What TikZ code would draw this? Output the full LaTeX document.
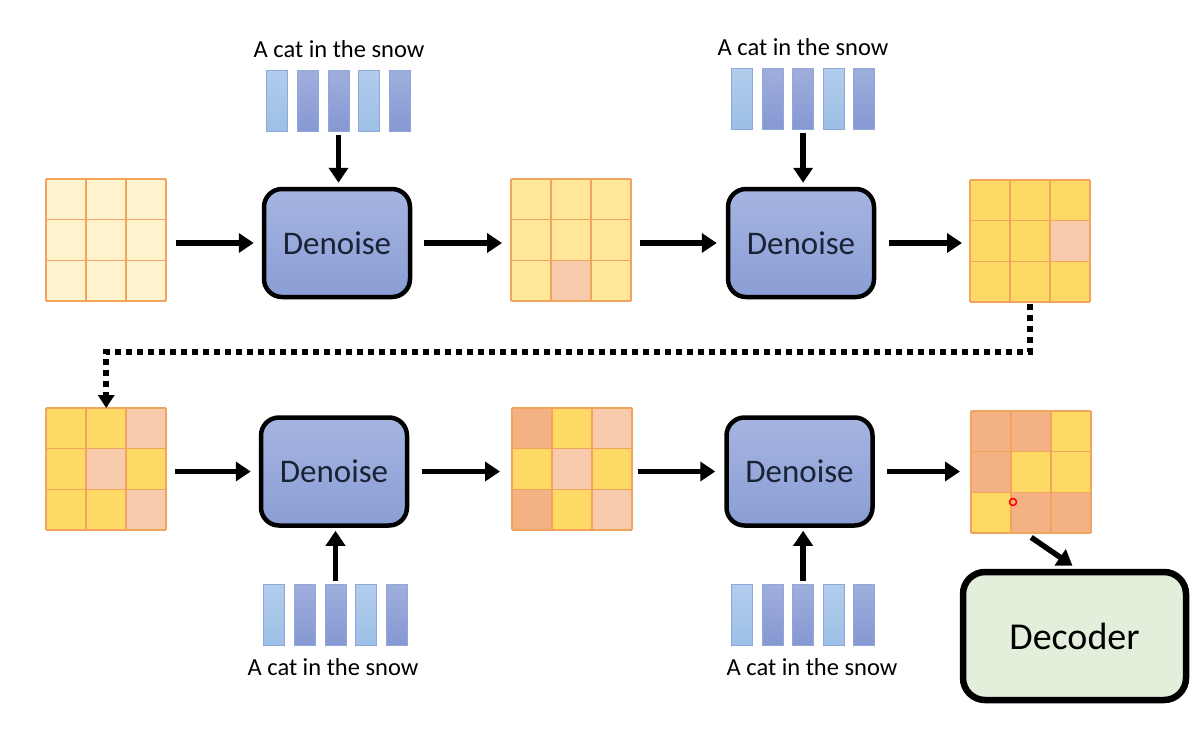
\documentclass[tikz,border=0pt]{standalone}
\usepackage{fontspec}
\setmainfont{Carlito}
\usetikzlibrary{arrows.meta}
\definecolor{cP}{HTML}{FFF2CC}
\definecolor{cL}{HTML}{FFE699}
\definecolor{cY}{HTML}{FFD966}
\definecolor{cK}{HTML}{F8CBAD}
\definecolor{cO}{HTML}{F4B183}
\definecolor{gline}{HTML}{F2A35E}
\definecolor{barLt}{HTML}{B2CCEC}
\definecolor{barLb}{HTML}{9CBFE6}
\definecolor{barDt}{HTML}{A0AEDD}
\definecolor{barDb}{HTML}{8698D2}
\definecolor{barEdge}{HTML}{8FA8DA}
\definecolor{denT}{HTML}{A5B5E1}
\definecolor{denB}{HTML}{8A9ED5}
\definecolor{denText}{HTML}{1A2235}
\definecolor{decFill}{HTML}{E2EFDA}
\tikzset{
  gridbox/.style={minimum width=120pt, minimum height=122pt, inner sep=0pt, anchor=north west},
  gridline/.style={draw=gline, line width=1.2pt},
  lbar/.style={minimum width=21pt, minimum height=61pt, inner sep=0pt, anchor=north west, draw=barEdge, line width=0.8pt, top color=barLt, bottom color=barLb},
  dbar/.style={minimum width=21pt, minimum height=61pt, inner sep=0pt, anchor=north west, draw=barEdge, line width=0.8pt, top color=barDt, bottom color=barDb},
  denoise/.style={minimum width=146pt, minimum height=108pt, rounded corners=18pt, draw=black, line width=4.5pt, top color=denT, bottom color=denB, text=denText, font=\fontsize{33}{36}\selectfont},
  decoder/.style={minimum width=223pt, minimum height=128pt, rounded corners=22pt, draw=black, line width=6.5pt, fill=decFill, font=\fontsize{38}{42}\selectfont},
  caption/.style={font=\fontsize{24.5}{28}\selectfont, inner sep=0pt},
  arr/.style={line width=5.5pt, -{Triangle[length=15pt,width=19pt]}},
  dotarr/.style={line width=6pt, dash pattern=on 6pt off 5pt, -{Triangle[length=13pt,width=16pt]}}
}
\newcommand{\mygrid}[4]{%
  \node[gridbox] (#1) at (#2,#3) {};
  \foreach \c [count=\i from 0] in {#4} {
    \pgfmathtruncatemacro\rr{div(\i,3)}
    \pgfmathtruncatemacro\cc{mod(\i,3)}
    \fill[\c] (#2+\cc*40, #3+\rr*40.667) rectangle ++(40,40.667);
  }
  \foreach \k in {0,1,2,3} {
    \draw[gridline] (#2+\k*40, #3) -- (#2+\k*40, #3+122);
    \draw[gridline] (#2, #3+\k*40.667) -- (#2+120, #3+\k*40.667);
  }
}
\newcommand{\mybars}[4]{% prefix, x0, ytop, dx
  \node[lbar] (#1a) at (#2,#3) {};
  \node[dbar] (#1b) at (#2+#4,#3) {};
  \node[dbar] (#1c) at (#2+2*#4,#3) {};
  \node[lbar] (#1d) at (#2+3*#4,#3) {};
  \node[dbar] (#1e) at (#2+4*#4,#3) {};
}
\begin{document}
\begin{tikzpicture}[x=1pt,y=-1pt]
\useasboundingbox[fill=white] (0,0) rectangle (1193,731);

% grids
\mygrid{g1}{46}{179}{cP,cP,cP,cP,cP,cP,cP,cP,cP}
\mygrid{g2}{511}{179}{cL,cL,cL,cL,cL,cL,cL,cK,cL}
\mygrid{g3}{970}{180}{cY,cY,cY,cY,cY,cK,cY,cY,cY}
\mygrid{g4}{46}{408}{cY,cY,cK,cY,cK,cY,cY,cY,cK}
\mygrid{g5}{512}{408}{cO,cY,cK,cY,cK,cY,cO,cY,cK}
\mygrid{g6}{971}{411}{cO,cO,cY,cO,cY,cY,cY,cO,cO}

% denoise boxes
\node[denoise] (d1) at (337,243) {Denoise};
\node[denoise] (d2) at (801,243) {Denoise};
\node[denoise] (d3) at (334,471.5) {Denoise};
\node[denoise] (d4) at (799.5,471.5) {Denoise};

% decoder
\node[decoder] (dec) at (1074.5,636) {Decoder};

% text embeddings
\mybars{ta}{266}{70}{30.8}
\mybars{tb}{731}{68}{30.6}
\mybars{tc}{263}{584}{30.8}
\mybars{td}{731}{584}{30.6}
\node[caption] (la) at (339,49) {A cat in the snow};
\node[caption] (lb) at (803,47) {A cat in the snow};
\node[caption] (lc) at (333,667) {A cat in the snow};
\node[caption] (ld) at (812,667) {A cat in the snow};

% vertical arrows
\draw[arr] ([yshift=-3pt]tac.south) -- ([yshift=4pt]tac.south |- d1.north);
\draw[arr] ([yshift=-3pt]tbc.south) -- ([yshift=4pt]tbc.south |- d2.north);
\draw[arr] ([yshift=3pt]tcc.north) -- ([yshift=-3pt]tcc.north |- d3.south);
\draw[arr] ([yshift=3pt]tdc.north) -- ([yshift=-3pt]tdc.north |- d4.south);

% horizontal arrows
\draw[arr] ([xshift=10pt]g1.east |- d1.west) -- ([xshift=-8pt]d1.west);
\draw[arr] ([xshift=12pt]d1.east) -- ([xshift=-9pt]g2.west |- d1.east);
\draw[arr] ([xshift=9pt]g2.east |- d2.west) -- ([xshift=-9pt]d2.west);
\draw[arr] ([xshift=13pt]d2.east) -- ([xshift=-8pt]g3.west |- d2.east);
\draw[arr] ([xshift=9pt]g4.east |- d3.west) -- ([xshift=-8pt]d3.west);
\draw[arr] ([xshift=13pt]d3.east) -- ([xshift=-12pt]g5.west |- d3.east);
\draw[arr] ([xshift=6pt]g5.east |- d4.west) -- ([xshift=-9pt]d4.west);
\draw[arr] ([xshift=12pt]d4.east) -- ([xshift=-11pt]g6.west |- d4.east);

% dotted connector
\draw[dotarr] ([yshift=-2pt]g3.south) -- ++(0,48) -| (g4.north);

% to decoder
\draw[arr] ([yshift=-4pt]g6.south) -- ([xshift=-2pt,yshift=3pt]dec.north);

% cursor mark
\draw[red, line width=1.5pt] (1013,502) circle (3.5pt);
\end{tikzpicture}
\end{document}
